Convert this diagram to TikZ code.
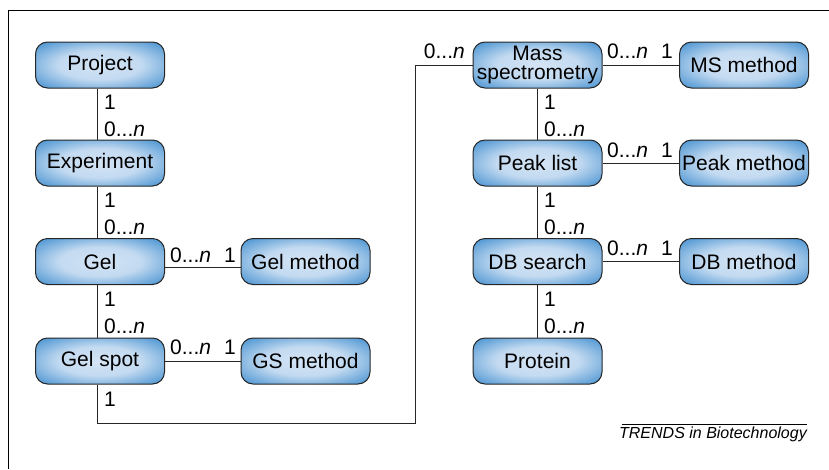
\documentclass[tikz,border=0pt]{standalone}
\usepackage{fontspec}
\setmainfont{Liberation Sans}
\definecolor{boxin}{RGB}{212,228,245}
\definecolor{boxmid}{RGB}{95,160,215}
\definecolor{boxout}{RGB}{12,102,182}
\pgfdeclareradialshading{boxshade}{\pgfpoint{0bp}{0bp}}{%
  color(0bp)=(boxin); color(16bp)=(boxin!85!boxmid); color(31bp)=(boxmid); color(44bp)=(boxout); color(50bp)=(boxout)}
\tikzset{
  entity/.style={rounded corners=12pt, draw=black!85, line width=1pt,
    shading=boxshade, minimum width=129pt, minimum height=46pt, inner sep=0pt,
    font=\fontsize{21}{18.5}\selectfont, align=center, text=black},
  conn/.style={line width=0.9pt, draw=black!85},
  card/.style={font=\fontsize{21}{24}\selectfont, inner sep=0pt}
}
\newcommand{\zn}{0...\textit{n}}
\begin{document}
\begin{tikzpicture}[x=1pt,y=-1pt]
\useasboundingbox (0,0) rectangle (829,469);
% frame
\draw[line width=0.9pt] (8,469) -- (8,10) -- (829,10);
% nodes
\node[entity] (proj) at (100,65) {Project};
\node[entity] (exp) at (100,163) {Experiment};
\node[entity] (gel) at (100,261.5) {Gel};
\node[entity] (gs) at (100,361) {Gel spot};
\node[entity] (gelm) at (305.5,261.5) {Gel method};
\node[entity] (gsm) at (305.5,361) {GS method};
\node[entity] (ms) at (537.5,65) {Mass\\spectrometry};
\node[entity] (pl) at (537.5,163) {Peak list};
\node[entity] (db) at (537.5,261.5) {DB search};
\node[entity] (prot) at (537.5,361) {Protein};
\node[entity] (msm) at (744,65) {MS method};
\node[entity] (pm) at (744,163) {Peak method};
\node[entity] (dbm) at (744,261.5) {DB method};
% corner coordinates for the long connector
\coordinate (c1) at (97,423);
\coordinate (c2) at (415,423);
\coordinate (c3) at (415,65);
% vertical connectors left column
\draw[conn] ([xshift=-3pt]proj.south) -- ([xshift=-3pt]exp.north);
\draw[conn] ([xshift=-3pt]exp.south) -- ([xshift=-3pt]gel.north);
\draw[conn] ([xshift=-3pt]gel.south) -- ([xshift=-3pt]gs.north);
% right column
\draw[conn] (ms.south) -- (pl.north);
\draw[conn] (pl.south) -- (db.north);
\draw[conn] (db.south) -- (prot.north);
% horizontal
\draw[conn] ([yshift=-6pt]gel.east) -- ([yshift=-6pt]gelm.west);
\draw[conn] (gs.east) -- (gsm.west);
\draw[conn] (ms.east) -- (msm.west);
\draw[conn] (pl.east) -- (pm.west);
\draw[conn] (db.east) -- (dbm.west);
% long connector
\draw[conn] ([xshift=-3pt]gs.south) -- (c1) -- (c2) -- (c3) -- (ms.west);
% cardinality labels, left column
\node[card, anchor=west] at (104,102.5) {1};
\node[card, anchor=west] at (104,129.5) {\zn};
\node[card, anchor=west] at (104,200.5) {1};
\node[card, anchor=west] at (104,227.5) {\zn};
\node[card, anchor=west] at (104,299.5) {1};
\node[card, anchor=west] at (104,326.5) {\zn};
\node[card, anchor=west] at (104,399.5) {1};
% right column
\node[card, anchor=west] at (544,102.5) {1};
\node[card, anchor=west] at (544,129.5) {\zn};
\node[card, anchor=west] at (544,200.5) {1};
\node[card, anchor=west] at (544,227.5) {\zn};
\node[card, anchor=west] at (544,299.5) {1};
\node[card, anchor=west] at (544,326.5) {\zn};
% horizontal labels
\node[card, anchor=west] at (170,255) {\zn};
\node[card, anchor=east] at (236,255) {1};
\node[card, anchor=west] at (170,347) {\zn};
\node[card, anchor=east] at (236,347) {1};
\node[card, anchor=west] at (607,51) {\zn};
\node[card, anchor=east] at (673,51) {1};
\node[card, anchor=west] at (607,150) {\zn};
\node[card, anchor=east] at (673,150) {1};
\node[card, anchor=west] at (607,248.5) {\zn};
\node[card, anchor=east] at (673,248.5) {1};
\node[card, anchor=east] at (465,51) {\zn};
% footer
\draw[line width=0.7pt] (622,424) -- (807,424);
\node[anchor=north east, inner sep=0pt, font=\fontsize{16}{18}\selectfont\itshape] (trends) at (807,427) {TRENDS in Biotechnology};
\end{tikzpicture}
\end{document}
